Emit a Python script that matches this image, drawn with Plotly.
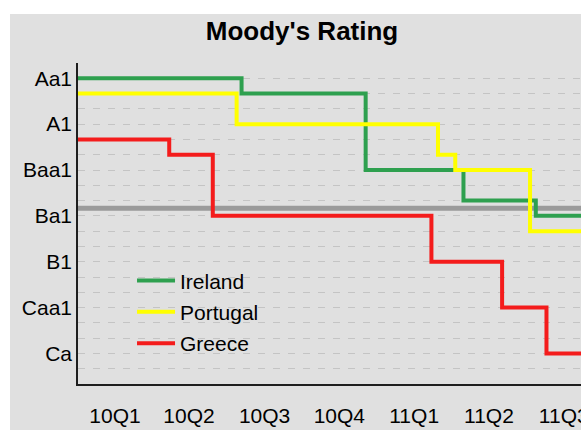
import plotly.graph_objects as go

# Moody's rating scale (notch order, top = best)
SCALE = ["Aaa", "Aa1", "Aa2", "Aa3", "A1", "A2", "A3", "Baa1", "Baa2", "Baa3",
         "Ba1", "Ba2", "Ba3", "B1", "B2", "B3", "Caa1", "Caa2", "Caa3", "Ca", "C"]
LABELED = ["Aa1", "A1", "Baa1", "Ba1", "B1", "Caa1", "Ca"]

ireland_dates = ["2010-01-01", "2010-07-19", "2010-12-17", "2011-04-15", "2011-07-12", "2011-09-30"]
ireland_ratings = ["Aa1", "Aa2", "Baa1", "Baa3", "Ba1", "Ba1"]

portugal_dates = ["2010-01-01", "2010-07-13", "2011-03-15", "2011-04-05", "2011-07-05", "2011-09-30"]
portugal_ratings = ["Aa2", "A1", "A3", "Baa1", "Ba2", "Ba2"]

greece_dates = ["2010-01-01", "2010-04-22", "2010-06-14", "2011-03-07", "2011-06-01", "2011-07-25", "2011-09-30"]
greece_ratings = ["A2", "A3", "Ba1", "B1", "Caa1", "Ca", "Ca"]

quarter_labels = ["10Q1", "10Q2", "10Q3", "10Q4", "11Q1", "11Q2", "11Q3"]
quarter_mid = ["2010-02-15", "2010-05-16", "2010-08-16", "2010-11-15",
               "2011-02-14", "2011-05-16", "2011-08-15"]

investment_grade_cut = 9.5  # between Baa3 and Ba1

def notch(r):
    return SCALE.index(r)

series = [
    ("Ireland", ireland_dates, ireland_ratings, "#2ea04f"),
    ("Portugal", portugal_dates, portugal_ratings, "#ffff00"),
    ("Greece", greece_dates, greece_ratings, "#f41c1c"),
]

FONT = "Liberation Sans, Arial, sans-serif"
BG = "#e0e0e0"

fig = go.Figure()
for name, d, r, c in series:
    fig.add_trace(go.Scatter(
        x=d, y=[notch(v) for v in r], name=name, mode="lines",
        line=dict(color=c, width=4, shape="hv"), legendgroup=name,
    ))

fig.update_layout(
    width=581, height=430,
    margin=dict(l=78, r=0, t=63, b=46, autoexpand=False),
    paper_bgcolor="white", plot_bgcolor=BG,
    font=dict(family=FONT, size=21, color="#000000"),
    title=dict(text="Moody's Rating", font=dict(family=FONT, size=26, weight="bold", color="#000"),
               xref="container", x=302 / 581, xanchor="center",
               yref="container", y=1 - 31 / 430, yanchor="middle"),
    showlegend=True,
    legend=dict(x=0.1074, xanchor="left", y=0.385, yanchor="top", itemwidth=38,
                bgcolor="rgba(0,0,0,0)", font=dict(size=21), tracegroupgap=1),
    shapes=[
        dict(type="rect", xref="paper", yref="paper", x0=-0.1352, x1=1.2, y0=-0.3, y1=1.1526,
             fillcolor=BG, line=dict(width=0), layer="below"),
        dict(type="line", xref="paper", yref="y", x0=0, x1=1,
             y0=investment_grade_cut, y1=investment_grade_cut,
             line=dict(color="#9a9a9a", width=5), layer="below"),
    ],
)

fig.update_xaxes(
    type="date", range=["2010-01-01", "2011-09-05"],
    tickvals=quarter_mid, ticktext=quarter_labels, ticks="",
    showgrid=False, zeroline=False,
    showline=True, linecolor="#1e1e1e", linewidth=1.5,
    ticklabelstandoff=12, ticklabeloverflow="allow",
    tickfont=dict(size=21),
)
fig.update_yaxes(
    range=[21, 0], tickmode="array",
    tickvals=list(range(len(SCALE))),
    ticktext=[s if s in LABELED else "" for s in SCALE],
    ticks="", showgrid=True, gridcolor="#c4c4c4", gridwidth=1, griddash="7px,8px",
    zeroline=False, showline=True, linecolor="#1e1e1e", linewidth=1.5,
    ticklabelstandoff=0, tickfont=dict(size=21),
)

fig.write_html("out.html", config={"displayModeBar": False},
               post_script="document.body.style.margin='0';document.body.style.overflow='hidden';")
